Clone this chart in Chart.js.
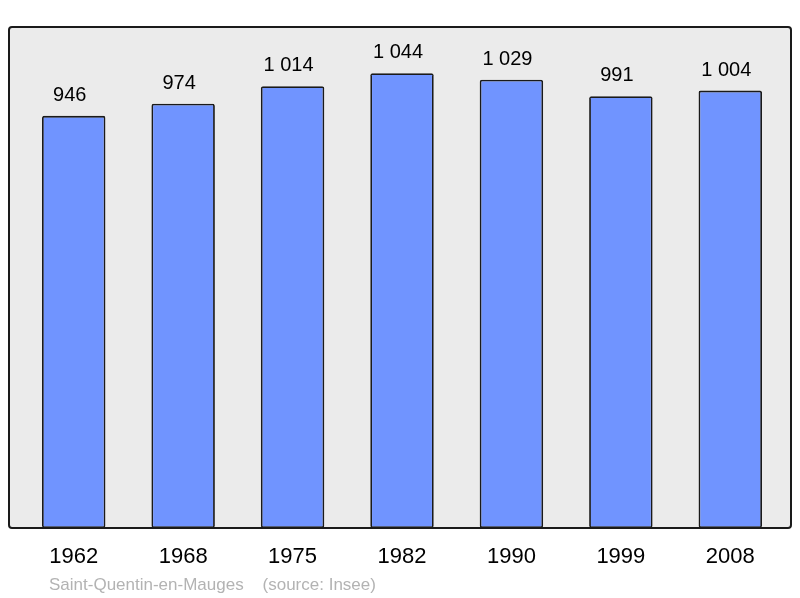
<!DOCTYPE html>
<html>
<head>
<meta charset="utf-8">
<script src="https://cdn.jsdelivr.net/npm/chart.js@4"></script>
<style>
html,body{margin:0;padding:0;background:#ffffff;}
#wrap{position:relative;width:800px;height:598px;}
canvas{display:block;}
</style>
</head>
<body>
<div id="wrap"><canvas id="c" width="800" height="598"></canvas></div>
<script>
const years = ["1962", "1968", "1975", "1982", "1990", "1999", "2008"];
const population = [946, 974, 1014, 1044, 1029, 991, 1004];
const sourceText = "Saint-Quentin-en-Mauges    (source: Insee)";
const yMax = 1150;

function fmt(v){ return String(v).replace(/\B(?=(\d{3})+(?!\d))/g, " "); }

const FONT = "'Liberation Sans', Arial, sans-serif";

const framePlugin = {
  id: 'frame',
  beforeDraw(chart){
    const ctx = chart.ctx;
    ctx.save();
    ctx.fillStyle = '#ffffff';
    ctx.fillRect(0,0,chart.width,chart.height);
    const x = 9, y = 27, w = 782, h = 501, r = 3;
    ctx.beginPath();
    ctx.roundRect(x, y, w, h, r);
    ctx.fillStyle = '#ebebeb';
    ctx.fill();
    ctx.lineWidth = 2;
    ctx.strokeStyle = '#1a1a1a';
    ctx.stroke();
    ctx.restore();
  },
  afterDatasetsDraw(chart){
    const ctx = chart.ctx;
    const meta = chart.getDatasetMeta(0);
    ctx.save();
    ctx.font = "20px " + FONT;
    ctx.fillStyle = '#000000';
    ctx.textAlign = 'center';
    ctx.textBaseline = 'alphabetic';
    meta.data.forEach((bar, i) => {
      ctx.fillText(fmt(population[i]), bar.x - 4, bar.y - 15);
    });
    ctx.font = "17px " + FONT;
    ctx.fillStyle = '#b3b3b3';
    ctx.textAlign = 'left';
    ctx.fillText(sourceText, 49, 590);
    ctx.restore();
  }
};

new Chart(document.getElementById('c'), {
  type: 'bar',
  data: {
    labels: years,
    datasets: [{
      data: population,
      backgroundColor: '#7094ff',
      borderColor: '#1a1a1a',
      borderWidth: 1.8,
      borderRadius: 2,
      borderSkipped: false,
      categoryPercentage: 1,
      barPercentage: 0.58
    }]
  },
  options: {
    responsive: false,
    animation: false,
    devicePixelRatio: 1,
    layout: { padding: { left: 19, right: 15, top: 27, bottom: 0 } },
    plugins: { legend: { display: false }, tooltip: { enabled: false } },
    scales: {
      y: { display: false, min: 0, max: yMax },
      x: {
        display: true,
        grid: { display: false, drawTicks: false },
        border: { display: false },
        ticks: { color: '#000000', font: { family: FONT, size: 22 }, padding: 16, maxRotation: 0 },
        afterFit(s){ s.height = 70; }
      }
    }
  },
  plugins: [framePlugin]
});
</script>
</body>
</html>
